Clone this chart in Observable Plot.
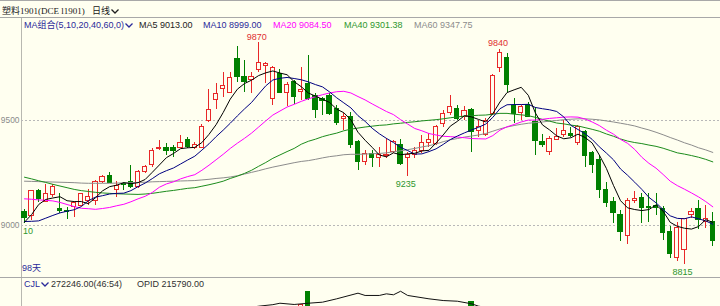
<!DOCTYPE html>
<html><head><meta charset="utf-8">
<script src="https://cdn.jsdelivr.net/npm/d3@7"></script>
<script src="https://cdn.jsdelivr.net/npm/@observablehq/plot@0.6"></script>
<style>
html,body{margin:0;padding:0;background:#FFFFF0;}
#wrap{position:relative;width:720px;height:306px;overflow:hidden;background:#FFFFF0;font-family:"Liberation Sans","Noto Sans CJK SC",sans-serif;}
.abs{position:absolute;white-space:nowrap;line-height:1;font-size:9px;}
.chev{display:inline-block;vertical-align:middle;margin-left:1px;}
</style></head><body>
<div id="wrap">
  <div class="abs" style="left:0;top:0;width:720px;height:1px;background:#a8a8a8"></div>
  <div class="abs" style="left:2px;top:6px;color:#202020"><span style="font-family:'Noto Sans CJK SC'">塑料</span><span style="font-family:'Liberation Serif'">1901(DCE l1901)</span></div>
  <div class="abs" style="left:92px;top:6px;color:#202020;font-family:'Noto Sans CJK SC'">日线<svg class="chev" width="8" height="5"><polyline points="0.5,0.5 4,4 7.5,0.5" fill="none" stroke="#202020" stroke-width="1.3"/></svg></div>
  <div class="abs" style="left:0;top:17px;width:720px;height:1px;background:#a8a8a8"></div>
  <div class="abs" style="left:21px;top:18px;width:1px;height:288px;background:#b8b8b0"></div>
  <div id="main" style="position:absolute;left:0;top:18px;"></div>
  <div class="abs" style="left:0;top:277px;width:720px;height:1px;background:#a8a8a8"></div>
  <div id="vol" style="position:absolute;left:0;top:289px;"></div>
  <div id="legend"></div>
  <div class="abs" style="left:22px;top:264px;color:#2a2a9a">98天</div>
  <div class="abs" style="left:24px;top:280px;color:#2a2a9a">CJL<svg class="chev" width="8" height="5"><polyline points="0.5,0.5 4,4 7.5,0.5" fill="none" stroke="#2a2a9a" stroke-width="1.3"/></svg></div>
  <div class="abs" style="left:51px;top:280px;color:#303030">272246.00(46:54)</div>
  <div class="abs" style="left:137px;top:280px;color:#303030">OPID 215790.00</div>
</div>
<script>
// ---- candle data (price) ----
const opens = [9063,9044,9162,9114,9143,9080,9071,9087,9095,9119,9119,9206,9238,9171,9200,9206,9182,9254,9286,9362,
9370,9367,9370,9408,9370,9370,9497,9599,9651,9631,9794,9706,9694,9741,9759,9603,9722,9630,9682,9635,
9675,9619,9603,9616,9556,9508,9519,9400,9301,9341,9320,9331,9349,9384,9320,9338,9354,9392,9389,9481,
9535,9556,9516,9548,9449,9433,9529,9751,9799,9571,9535,9576,9492,9400,9349,9408,9429,9437,9394,9444,
9346,9313,9171,9111,9052,8952,9116,9130,9087,9095,9080,8968,8846,8881,9048,9080,9016,9016];
const highs = [9075,9167,9171,9195,9195,9152,9087,9111,9152,9170,9214,9238,9254,9210,9206,9286,9262,9286,9365,9405,
9389,9381,9429,9421,9395,9481,9648,9675,9730,9730,9852,9786,9730,9870,9778,9757,9741,9682,9690,9754,
9810,9627,9611,9627,9571,9532,9540,9405,9357,9357,9373,9413,9405,9408,9348,9373,9429,9437,9476,9548,
9619,9571,9567,9556,9500,9508,9719,9840,9818,9603,9571,9587,9563,9433,9424,9460,9500,9468,9476,9452,
9354,9333,9206,9135,9071,9127,9163,9151,9151,9152,9090,8995,9016,9033,9080,9119,9095,9063];
const lows = [9010,9024,9111,9108,9135,9059,9027,9040,9092,9095,9095,9199,9199,9135,9167,9175,9175,9246,9278,9357,
9333,9325,9365,9365,9362,9367,9492,9552,9611,9627,9682,9635,9630,9730,9675,9571,9627,9567,9576,9595,
9595,9508,9524,9524,9476,9452,9365,9262,9286,9278,9278,9318,9341,9286,9235,9318,9341,9373,9381,9468,
9524,9500,9500,9349,9420,9424,9524,9730,9635,9487,9500,9513,9333,9370,9333,9405,9420,9420,9381,9278,
9249,9127,9087,9011,8925,8910,9106,9011,9016,9048,8929,8841,8830,8815,9033,8980,8984,8900];
const closes = [9037,9162,9124,9151,9182,9068,9063,9105,9151,9135,9206,9230,9201,9187,9195,9182,9254,9278,9354,9370,
9357,9355,9394,9373,9382,9471,9548,9627,9662,9703,9706,9682,9706,9773,9770,9749,9630,9667,9611,9646,
9603,9552,9595,9532,9489,9516,9381,9301,9341,9320,9338,9336,9397,9294,9338,9354,9394,9408,9471,9529,
9563,9508,9543,9444,9468,9500,9710,9820,9667,9532,9563,9519,9401,9381,9413,9420,9449,9427,9468,9333,
9286,9167,9108,9059,8968,9119,9127,9084,9081,9081,8965,8865,8990,9032,9063,9024,9032,8925];

// ---- moving-average lines ----
const ma5 = [9016,9052,9100,9124,9131,9137,9118,9114,9114,9104,9132,9165,9185,9192,9204,9199,9204,9219,9253,9288,
9323,9343,9366,9370,9372,9395,9434,9480,9538,9602,9649,9676,9692,9714,9727,9736,9726,9718,9685,9661,
9631,9616,9601,9586,9554,9537,9503,9444,9406,9372,9336,9327,9346,9337,9341,9344,9355,9358,9393,9431,
9473,9496,9523,9517,9505,9493,9533,9588,9633,9646,9658,9620,9536,9479,9455,9427,9413,9418,9435,9419,
9393,9336,9272,9191,9118,9084,9076,9071,9076,9098,9068,9015,8996,8987,8983,8995,9028,9015];
const ma10 = [9019,9020,9022,9035,9048,9060,9068,9075,9090,9118,9135,9142,9150,9153,9154,9166,9185,9202,9223,9246,
9261,9274,9293,9312,9330,9359,9389,9423,9454,9487,9522,9555,9586,9626,9665,9693,9701,9705,9700,9694,
9684,9671,9660,9636,9608,9584,9560,9523,9496,9463,9437,9415,9395,9372,9357,9340,9341,9352,9365,9386,
9409,9426,9441,9455,9468,9483,9515,9556,9575,9576,9576,9577,9562,9556,9551,9543,9517,9477,9457,9437,
9410,9375,9345,9313,9269,9239,9206,9172,9134,9108,9076,9046,9034,9032,9041,9032,9022,9006];
const ma20 = [9127,9125,9122,9120,9117,9110,9100,9090,9082,9080,9077,9081,9086,9094,9101,9113,9127,9139,9157,9182,
9198,9208,9222,9233,9242,9263,9287,9313,9339,9367,9392,9415,9440,9469,9498,9526,9545,9564,9577,9591,
9603,9613,9623,9631,9637,9639,9631,9614,9598,9579,9561,9543,9528,9504,9483,9462,9451,9438,9431,9425,
9423,9421,9418,9414,9413,9412,9428,9454,9470,9481,9493,9502,9502,9506,9510,9513,9516,9517,9516,9507,
9493,9476,9454,9435,9410,9391,9362,9325,9296,9273,9243,9211,9190,9173,9155,9136,9114,9089];
const ma40 = [9230,9222,9213,9205,9196,9188,9180,9172,9166,9162,9158,9155,9153,9151,9150,9149,9148,9150,9153,9158,
9163,9167,9172,9177,9180,9187,9194,9202,9211,9224,9235,9248,9263,9282,9300,9320,9336,9352,9367,9387,
9401,9411,9423,9432,9440,9451,9459,9464,9469,9473,9477,9479,9484,9487,9491,9494,9498,9501,9504,9508,
9513,9517,9521,9523,9525,9526,9530,9534,9534,9530,9527,9523,9515,9505,9497,9488,9484,9478,9474,9466,
9458,9449,9436,9425,9412,9402,9395,9390,9383,9377,9368,9357,9346,9340,9333,9325,9315,9303];
const ma60 = [9211,9210,9209,9208,9207,9206,9205,9204,9202,9201,9201,9201,9201,9202,9203,9204,9205,9206,9208,9209,
9210,9211,9212,9213,9214,9217,9220,9224,9227,9231,9237,9245,9253,9261,9270,9278,9285,9292,9299,9305,
9309,9315,9322,9328,9332,9337,9339,9339,9340,9342,9343,9346,9351,9356,9361,9367,9374,9380,9388,9399,
9408,9414,9421,9426,9431,9438,9449,9460,9469,9476,9482,9487,9490,9493,9497,9500,9504,9506,9508,9508,
9506,9503,9498,9493,9487,9481,9474,9464,9455,9444,9432,9419,9407,9394,9383,9370,9360,9348];

// ---- legend values ----
const maNames = ["MA5","MA10","MA20","MA40","MA60"];
const maLast = ["9013.00","8999.00","9084.50","9301.38","9347.75"];
const maColors = ["#000000","#000080","#ff00ff","#1c8c1c","#8c8c8c"];
const maTextColors = ["#222222","#2a2a9a","#ff00ff","#2e962e","#8c8c8c"];

// ---- axis ticks and extreme labels ----
const gridTicks = [9000, 9500];
const highIdx = [33, 67];
const highText = ["9870", "9840"];
const lowIdx = [54, 93];
const lowText = ["9235", "8815"];
const edgeIdx = [0];
const edgeText = ["10"];

// ---- lower panel (only the visible tops) ----
const volIdx = [39, 40, 63];
const volVals = [1000000, 1130000, 1025000];
const opidIdx = [30,33,35,36,38,40,42,44,47,48,50,51,52,53,54,57,59,61,63,64,67];
const opidVals = [950000,984000,1000000,1015000,1002000,1015000,1026000,1061000,1120000,1096000,1096000,1113000,1103000,1140000,1096000,1061000,1043000,1036000,1009000,984000,950000];

const bg = "#FFFFF0", red = "#e82828", green = "#008000";
const n = closes.length;
const candles = d3.range(n).map(i => ({i, o: opens[i], h: highs[i], l: lows[i], c: closes[i], up: closes[i] >= opens[i]}));
const ups = candles.filter(d => d.up), downs = candles.filter(d => !d.up);
const hw = 0.3;
const hiLabels = highIdx.map((i, k) => ({i, v: highs[i], t: highText[k]}));
const loLabels = lowIdx.map((i, k) => ({i, v: lows[i], t: lowText[k]}));
const edgeLabels = edgeIdx.map((i, k) => ({i, v: lows[i], t: edgeText[k]}));
const xs = {type: "linear", domain: [0, n - 1], range: [24, 712.3], axis: null};

const order = [4, 3, 2, 1, 0];
const maArr = [ma5, ma10, ma20, ma40, ma60];

const main = Plot.plot({
  width: 720, height: 259,
  marginLeft: 21, marginRight: 0, marginTop: 0, marginBottom: 0,
  style: {background: "transparent", overflow: "visible", fontFamily: "Liberation Sans", fontSize: "9px"},
  x: xs,
  y: {type: "linear", domain: [9000, 9500], range: [207, 102], axis: null},
  marks: [
    Plot.ruleY(gridTicks, {stroke: "#b8b8b8", strokeDasharray: "2,2", shapeRendering: "crispEdges"}),
    Plot.axisY(gridTicks, {anchor: "left", tickSize: 0, tickPadding: 2, fill: "#8a8a8a", label: null, tickFormat: d => String(d), fontSize: 8.4}),
    Plot.ruleX(ups, {x: "i", y1: "l", y2: "h", stroke: red, shapeRendering: "crispEdges"}),
    Plot.ruleX(downs, {x: "i", y1: "l", y2: "h", stroke: green, shapeRendering: "crispEdges"}),
    Plot.rect(downs, {x1: d => d.i - hw, x2: d => d.i + hw, y1: "o", y2: "c", fill: green, stroke: green, shapeRendering: "crispEdges"}),
    Plot.rect(ups, {x1: d => d.i - hw, x2: d => d.i + hw, y1: "o", y2: "c", fill: bg, stroke: red, shapeRendering: "crispEdges"}),
    ...order.map(k => Plot.line(maArr[k], {x: (d, i) => i, y: d => d, stroke: maColors[k], strokeWidth: 1})),
    Plot.text(hiLabels, {x: "i", y: "v", text: "t", dx: -2, dy: -6, fill: "#e03030", fontSize: 9}),
    Plot.text(loLabels, {x: "i", y: "v", text: "t", dx: -2, dy: 8, fill: "#2e962e", fontSize: 9}),
    Plot.text(edgeLabels, {x: "i", y: "v", text: "t", dx: -1.5, dy: 8, textAnchor: "start", fill: "#2e962e", fontSize: 9})
  ]
});
document.getElementById("main").appendChild(main);

const volData = volIdx.map((i, k) => ({i, v: volVals[k], up: candles[i].up}));
const opid = opidIdx.map((i, k) => ({i, v: opidVals[k]}));
const vol = Plot.plot({
  width: 720, height: 17,
  marginLeft: 21, marginRight: 0, marginTop: 0, marginBottom: 0,
  style: {background: "transparent"},
  x: xs,
  y: {type: "linear", domain: [0, 1200000], range: [111, -4], axis: null},
  marks: [
    Plot.rect(volData.filter(d => !d.up), {x1: d => d.i - hw, x2: d => d.i + hw, y1: 0, y2: "v", fill: green, stroke: green, clip: true, shapeRendering: "crispEdges"}),
    Plot.rect(volData.filter(d => d.up), {x1: d => d.i - hw, x2: d => d.i + hw, y1: 0, y2: "v", fill: bg, stroke: red, clip: true, shapeRendering: "crispEdges"}),
    Plot.line(opid, {x: "i", y: "v", stroke: "#111", strokeWidth: 1, clip: true})
  ]
});
document.getElementById("vol").appendChild(vol);

// legend row
const lg = document.getElementById("legend");
const head = document.createElement("div");
head.className = "abs";
head.style.cssText = "left:24px;top:21px;color:#2a2a9a";
head.innerHTML = 'MA组合(5,10,20,40,60,0)<svg class="chev" width="8" height="5"><polyline points="0.5,0.5 4,4 7.5,0.5" fill="none" stroke="#2a2a9a" stroke-width="1.3"/></svg>';
lg.appendChild(head);
const lx = [139, 203, 273, 344, 414];
maNames.forEach((nm, k) => {
  const s = document.createElement("div");
  s.className = "abs";
  s.style.cssText = `left:${lx[k]}px;top:21px;color:${maTextColors[k]}`;
  s.textContent = nm + " " + maLast[k];
  lg.appendChild(s);
});
</script>
</body></html>
